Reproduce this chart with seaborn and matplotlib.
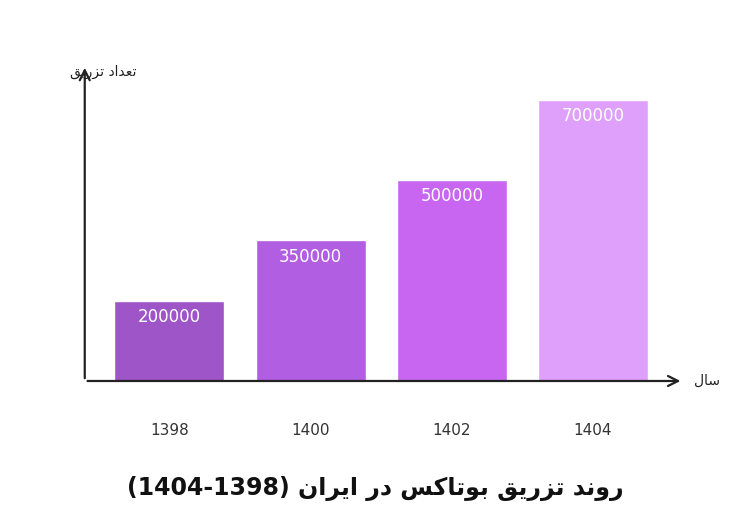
import matplotlib
matplotlib.use("Agg")
import matplotlib.pyplot as plt
import seaborn as sns
import pandas as pd

years = ["1398", "1400", "1402", "1404"]
counts = [200000, 350000, 500000, 700000]
bar_colors = ["#9d55c8", "#b25ee2", "#c866f2", "#dfa0fb"]

# minimal Persian shaping (isolated, final, initial, medial)
FORMS = {
    "ا": ("\uFE8D", "\uFE8E", None, None), "ب": ("\uFE8F", "\uFE90", "\uFE91", "\uFE92"),
    "ت": ("\uFE95", "\uFE96", "\uFE97", "\uFE98"), "د": ("\uFEA9", "\uFEAA", None, None),
    "ر": ("\uFEAD", "\uFEAE", None, None), "ز": ("\uFEAF", "\uFEB0", None, None),
    "س": ("\uFEB1", "\uFEB2", "\uFEB3", "\uFEB4"), "ع": ("\uFEC9", "\uFECA", "\uFECB", "\uFECC"),
    "ق": ("\uFED5", "\uFED6", "\uFED7", "\uFED8"), "ل": ("\uFEDD", "\uFEDE", "\uFEDF", "\uFEE0"),
    "ن": ("\uFEE5", "\uFEE6", "\uFEE7", "\uFEE8"), "و": ("\uFEED", "\uFEEE", None, None),
    "ی": ("\uFBFC", "\uFBFD", "\uFBFE", "\uFBFF"), "ک": ("\uFB8E", "\uFB8F", "\uFB90", "\uFB91"),
}


def shape(text):
    out = []
    for i, ch in enumerate(text):
        if ch not in FORMS:
            out.append(ch)
            continue
        prev = text[i - 1] if i > 0 else " "
        nxt = text[i + 1] if i + 1 < len(text) else " "
        join_prev = prev in FORMS and FORMS[prev][2] is not None
        join_next = nxt in FORMS and FORMS[ch][2] is not None
        iso, fin, ini, med = FORMS[ch]
        if join_prev and join_next:
            out.append(med)
        elif join_prev:
            out.append(fin)
        elif join_next:
            out.append(ini)
        else:
            out.append(iso)
    return "".join(out)[::-1]


ylabel_text = "تعداد تزریق"
xlabel_text = "سال"
title_text = "روند تزریق بوتاکس در ایران"

sns.set_style("white")
plt.rcParams["font.family"] = ["DejaVu Sans"]

df = pd.DataFrame({"year": years, "count": counts})
fig = plt.figure(figsize=(7.5, 5.18), dpi=100)
ax = fig.add_axes([0.113, 0.2645, 0.798, 0.61])
sns.barplot(data=df, x="year", y="count", hue="year", palette=bar_colors,
            legend=False, width=0.78, ax=ax, saturation=1)
ax.set_ylim(0, 787000)
ax.set_xlim(-0.6, 3.64)
for s in ax.spines.values():
    s.set_visible(False)
ax.set_yticks([])
ax.set_xlabel("")
ax.set_ylabel("")
ax.tick_params(axis="x", length=0, pad=30, labelsize=11, labelcolor="#333333")

for i, v in enumerate(counts):
    ax.text(i, v - 18000, str(v), ha="center", va="top", color="white", fontsize=12)

arrow = dict(arrowstyle="->", color="#222222", lw=1.6, mutation_scale=18)
ax.annotate("", xy=(0, 1.0), xytext=(0, 0), xycoords="axes fraction", arrowprops=arrow)
ax.annotate("", xy=(1.0, 0), xytext=(0, 0), xycoords="axes fraction", arrowprops=arrow)

fig.text(0.093, 0.862, shape(ylabel_text), ha="left", va="center", fontsize=10, color="#222222")
fig.text(0.925, 0.264, shape(xlabel_text), ha="left", va="center", fontsize=10, color="#222222")
fig.text(0.5, 0.057, "(1404-1398) " + shape(title_text), ha="center", va="center",
         fontsize=17, fontweight="bold", color="#111111")

fig.savefig("out.png", dpi=100)
